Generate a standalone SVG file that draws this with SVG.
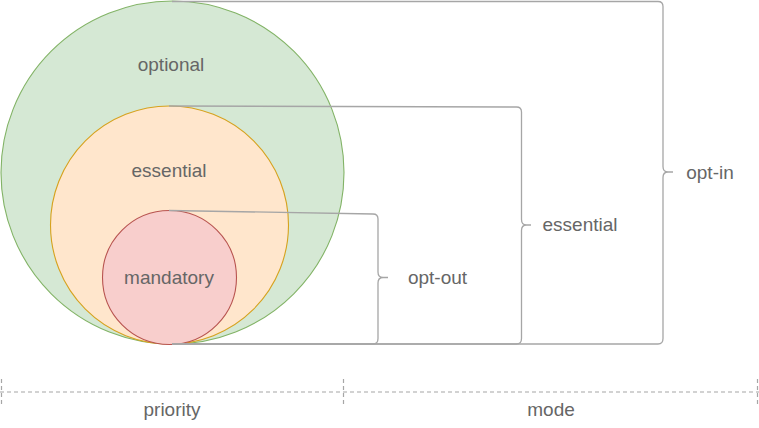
<svg xmlns="http://www.w3.org/2000/svg" width="759" height="428" viewBox="0 0 759 428">
<style>
text{font-family:"Liberation Sans",Arial,sans-serif;font-size:19px;fill:#666;text-anchor:middle}
.brace{fill:none;stroke:#a6a6a6;stroke-width:1.3}
.dash{fill:none;stroke:#a6a6a6;stroke-width:1.2;stroke-dasharray:4 3}
</style>
<rect width="759" height="428" fill="#fff"/>
<g id="optional">
<circle cx="172.5" cy="172.5" r="171.5" fill="#d5e8d4" stroke="#82b366" stroke-width="1.1"/>
<text x="171" y="71">optional</text>
</g>
<g id="essential">
<circle cx="169.5" cy="225" r="119" fill="#ffe6cc" stroke="#d6a21e" stroke-width="1.1"/>
<text x="169" y="177">essential</text>
</g>
<g id="mandatory">
<circle cx="169.5" cy="277.5" r="67" fill="#f8cecc" stroke="#b85450" stroke-width="1.1"/>
<text x="169" y="284">mandatory</text>
</g>
<g id="connectors">
<path class="brace" d="M172,1.5 H658 Q663,1.5 663,6.5 V166.5 Q663,172 668,172 H673 M668,172 Q663,172 663,177.5 V338.5 Q663,344 658,344 H172"/>
<path class="brace" d="M169,106 L516.5,107 Q521.5,107 521.5,112 V219.5 Q521.5,225 526.5,225 H531 M526.5,225 Q521.5,225 521.5,230.5 V338.5 Q521.5,344 516.5,344 H172"/>
<path class="brace" d="M169,210.5 L373,214 Q378,214 378,219 V272 Q378,277.5 383,277.5 H388 M383,277.5 Q378,277.5 378,283 V338.5 Q378,344 373,344 H172"/>
</g>
<g id="opt-in"><text x="710" y="179">opt-in</text></g>
<g id="essential-mode"><text x="580" y="231">essential</text></g>
<g id="opt-out"><text x="437.5" y="284">opt-out</text></g>
<g id="axis">
<path class="dash" d="M0,392 H759"/>
<path class="dash" d="M1.5,379 V405 M343.5,379 V405 M757.5,379 V405"/>
<text x="172" y="416">priority</text>
<text x="551" y="416">mode</text>
</g>
</svg>
